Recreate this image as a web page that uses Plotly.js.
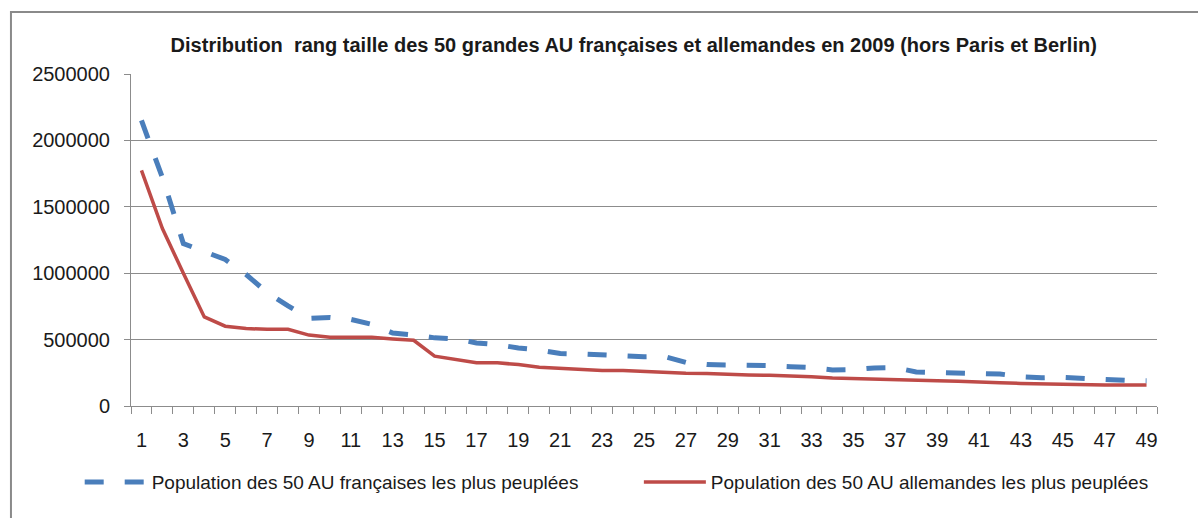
<!DOCTYPE html>
<html>
<head>
<meta charset="utf-8">
<script src="https://cdn.plot.ly/plotly-3.0.1.min.js"></script>
<style>
  html, body { margin: 0; padding: 0; background: #ffffff; }
  #chart { width: 1198px; height: 518px; }
</style>
</head>
<body>
<div id="chart"></div>
<script>
// Rank (category) axis
const ranks = [1,2,3,4,5,6,7,8,9,10,11,12,13,14,15,16,17,18,19,20,21,22,23,24,25,
  26,27,28,29,30,31,32,33,34,35,36,37,38,39,40,41,42,43,44,45,46,47,48,49];

// Population of the 50 largest French urban areas (excluding Paris)
const popFrance = [2150000,1720000,1223000,1160000,1103000,990000,855000,754000,659000,667000,
  652000,615000,550000,535000,513000,505000,475000,462000,437000,422000,
  395000,392000,385000,370000,370000,372000,329000,312000,310000,310000,
  304000,296000,289000,271000,274000,287000,289000,256000,253000,253000,
  244000,241000,221000,213000,216000,206000,201000,193000,191000];

// Population of the 50 largest German urban areas (excluding Berlin)
const popGermany = [1774000,1336000,1000000,671000,601000,584000,577000,577000,534000,517000,
  517000,517000,505000,495000,375000,350000,325000,325000,312000,292000,
  282000,274000,267000,267000,259000,254000,247000,244000,237000,234000,
  231000,228000,221000,211000,208000,201000,198000,193000,191000,186000,
  178000,176000,170000,166000,161000,158000,158000,158000,158000];

const xTickVals = [1,3,5,7,9,11,13,15,17,19,21,23,25,27,29,31,33,35,37,39,41,43,45,47,49];
const xTickText = ["1","3","5","7","9","11","13","15","17","19","21","23","25","27","29",
  "31","33","35","37","39","41","43","45","47","49"];
const yTickVals = [0,500000,1000000,1500000,2000000,2500000];
const yTickText = ["0","500000","1000000","1500000","2000000","2500000"];

const seriesNames = ["Population des 50 AU françaises les plus peuplées",
                     "Population des 50 AU allemandes les plus peuplées"];
const chartTitle = "Distribution  rang taille des 50 grandes AU françaises et allemandes en 2009 (hors Paris et Berlin)";

const FONT = "Liberation Sans, Arial, sans-serif";
const GRID = "#8c8c8c";
const TXT = "#1a1a1a";

const traces = [
  {
    x: ranks, y: popFrance, type: "scatter", mode: "lines",
    name: seriesNames[0], legend: "legend",
    line: { color: "#4A7EBB", width: 5, dash: "19px,21px" },
    hoverinfo: "skip"
  },
  {
    x: ranks, y: popGermany, type: "scatter", mode: "lines",
    name: seriesNames[1], legend: "legend2",
    line: { color: "#BE4B48", width: 3.5 },
    hoverinfo: "skip"
  }
];

const legendCommon = {
  orientation: "h", xanchor: "left",
  y: -0.229, yanchor: "middle",
  itemwidth: 62,
  font: { family: FONT, size: 19, color: TXT },
  bgcolor: "rgba(0,0,0,0)"
};

const layout = {
  width: 1198, height: 518,
  margin: { l: 131, r: 41, t: 74, b: 112, pad: 0 },
  paper_bgcolor: "#ffffff", plot_bgcolor: "#ffffff",
  font: { family: FONT, color: TXT, size: 20 },
  title: {
    text: "<b>" + chartTitle + "</b>",
    font: { family: FONT, size: 20, color: TXT },
    xref: "container", x: 0.529, xanchor: "center",
    yref: "container", y: 0.913, yanchor: "middle"
  },
  xaxis: {
    type: "linear", range: [0.5, 49.5], fixedrange: true,
    showgrid: false, zeroline: false,
    showline: true, linecolor: GRID, linewidth: 1,
    tickmode: "array", tickvals: xTickVals, ticktext: xTickText,
    ticks: "", ticklabelstandoff: 16,
    tickfont: { family: FONT, size: 20, color: TXT },
    minor: { tick0: 0.5, dtick: 1, ticks: "outside", ticklen: 7, tickcolor: GRID, tickwidth: 1, showgrid: false }
  },
  yaxis: {
    range: [0, 2500000], fixedrange: true,
    tickmode: "array", tickvals: yTickVals, ticktext: yTickText,
    showgrid: true, gridcolor: GRID, gridwidth: 1,
    zeroline: false,
    showline: true, linecolor: GRID, linewidth: 1,
    ticks: "outside", ticklen: 6, tickcolor: GRID,
    ticklabelstandoff: 10,
    tickfont: { family: FONT, size: 20, color: TXT }
  },
  showlegend: true,
  legend: Object.assign({}, legendCommon, { x: -0.05 }),
  legend2: Object.assign({}, legendCommon, { x: 0.495 }),
  shapes: [
    {
      type: "rect", xref: "paper", yref: "paper",
      x0: -0.117, x1: 1.2, y0: -0.6, y1: 1.1867,
      line: { color: "#8a8a8a", width: 2 }, fillcolor: "rgba(0,0,0,0)",
      layer: "below"
    }
  ]
};

Plotly.newPlot("chart", traces, layout, { staticPlot: true, displayModeBar: false });
</script>
</body>
</html>
